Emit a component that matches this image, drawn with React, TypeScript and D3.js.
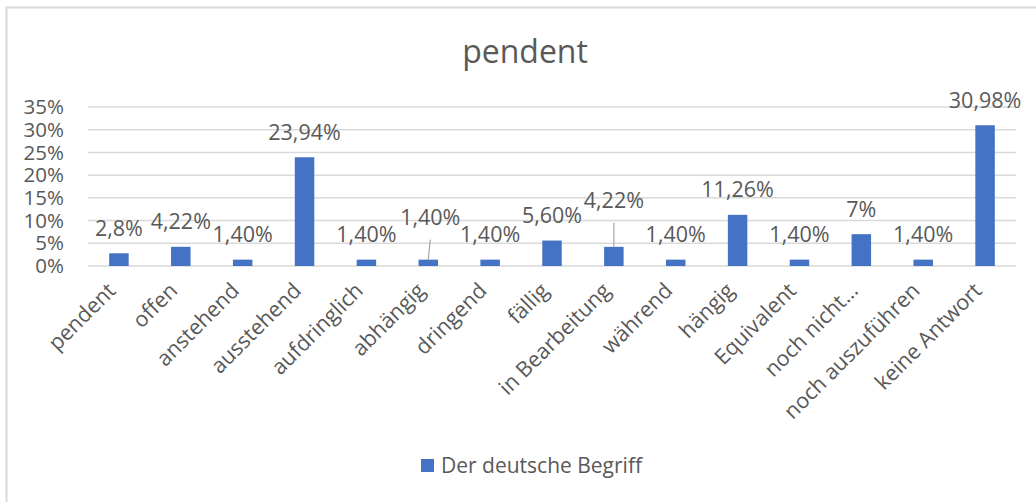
import * as d3 from "d3";

const categories = [
  "pendent",
  "offen",
  "anstehend",
  "ausstehend",
  "aufdringlich",
  "abhängig",
  "dringend",
  "fällig",
  "in Bearbeitung",
  "während",
  "hängig",
  "Equivalent",
  "noch nicht…",
  "noch auszuführen",
  "keine Antwort",
];
const values = [2.8, 4.22, 1.4, 23.94, 1.4, 1.4, 1.4, 5.6, 4.22, 1.4, 11.26, 1.4, 7, 1.4, 30.98];
const valueLabels = [
  "2,8%", "4,22%", "1,40%", "23,94%", "1,40%", "1,40%", "1,40%", "5,60%",
  "4,22%", "1,40%", "11,26%", "1,40%", "7%", "1,40%", "30,98%",
];
const yTicks = [0, 5, 10, 15, 20, 25, 30, 35];
const seriesName = "Der deutsche Begriff";
const chartTitle = "pendent";

// labels that were dragged away from the bar in the original (px), with a leader line
const labelLift: Record<number, { dx: number; dy: number }> = {
  5: { dx: 2, dy: -17 },
  8: { dx: 0, dy: -21 },
};

const W = 1036;
const H = 502;
const font = "'Open Sans', sans-serif";
const textColor = "#595959";
const barColor = "#4472c4";

export default function App() {
  const x = d3.scaleBand<string>().domain(categories).range([88, 1016]).paddingInner(0.685).paddingOuter(0.3425);
  const y = d3.scaleLinear().domain([0, 35]).range([266, 107]);
  const cx = (c: string) => (x(c) ?? 0) + x.bandwidth() / 2;

  return (
    <div style={{ position: "absolute", left: 0, top: 0 }}>
      <svg width={W} height={H} style={{ display: "block", background: "#fff" }} fontFamily={font}>
        <rect x={6.5} y={7.5} width={W + 10} height={H + 10} fill="none" stroke="#d9d9d9" strokeWidth={2} />
        <text x={525} y={63} textAnchor="middle" fontSize={32} fill={textColor}>
          {chartTitle}
        </text>

        {yTicks.map((t) => (
          <g key={t}>
            <line x1={88} x2={1016} y1={y(t)} y2={y(t)} stroke="#d9d9d9" strokeWidth={1.5} />
            <text x={64} y={y(t)} dy="0.35em" textAnchor="end" fontSize={20.5} fill={textColor}>
              {t}%
            </text>
          </g>
        ))}

        {categories.map((c, i) => (
          <rect key={c} x={x(c)} y={y(values[i])} width={x.bandwidth()} height={y(0) - y(values[i])} fill={barColor} />
        ))}

        {categories.map((c, i) => {
          const lift = labelLift[i] ?? { dx: 0, dy: 0 };
          const lx = cx(c) + lift.dx;
          const ly = y(values[i]) - 25 + lift.dy;
          return (
            <g key={c}>
              {lift.dy !== 0 && (
                <line x1={lx} y1={ly + 22} x2={cx(c)} y2={y(values[i])} stroke="#a6a6a6" strokeWidth={1.2} />
              )}
              <text x={lx} y={ly} dy="0.35em" textAnchor="middle" fontSize={21.5} fill={textColor}>
                {valueLabels[i]}
              </text>
            </g>
          );
        })}

        {categories.map((c) => (
          <text
            key={c}
            transform={`translate(${cx(c) - 2},${292}) rotate(-45)`}
            textAnchor="end"
            fontSize={21.5}
            fill={textColor}
          >
            {c}
          </text>
        ))}

        <rect x={421} y={459} width={13} height={13} fill={barColor} />
        <text x={441} y={465.5} dy="0.35em" fontSize={21} fill={textColor}>
          {seriesName}
        </text>
      </svg>
    </div>
  );
}
